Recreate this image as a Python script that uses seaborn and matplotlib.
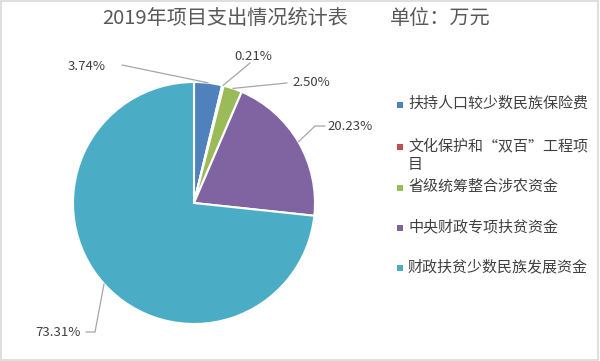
import numpy as np
import matplotlib
matplotlib.use("Agg")
import matplotlib.pyplot as plt
import matplotlib.patches as patches
import seaborn as sns

# 数据
categories = ["扶持人口较少数民族保险费", "文化保护和“双百”工程项\n目", "省级统筹整合涉农资金",
              "中央财政专项扶贫资金", "财政扶贫少数民族发展资金"]
shares = [3.74, 0.21, 2.50, 20.23, 73.31]
pct_labels = ["3.74%", "0.21%", "2.50%", "20.23%", "73.31%"]
colors = ["#4F81BD", "#C0504D", "#9BBB59", "#8064A2", "#4BACC6"]

sns.set_style("white")
plt.rcParams['font.family'] = ['Noto Sans CJK SC', 'DejaVu Sans']

W, H = 600, 361
fig = plt.figure(figsize=(6, 3.61), dpi=100)
ax = fig.add_axes([0, 0, 1, 1])

def Y(y):  # 从上往下的像素坐标 -> 轴坐标
    return H - y

# 饼图
cx, cy, r = 194, Y(203), 121
wedges, _ = ax.pie(shares, colors=colors, startangle=90, counterclock=False,
                   center=(cx, cy), radius=r, frame=True,
                   wedgeprops=dict(edgecolor='white', linewidth=1.5))
ax.set_xlim(0, W)
ax.set_ylim(0, H)
ax.set_aspect('equal')
ax.axis('off')

# 百分比标签与引导线
label_pos = [(87, 67), (253, 57), (311, 83), (350, 127), (58, 332)]
line_pts = [[(122, 65)], [(250, 63)], [(287, 83)], [(325, 126), (315, 126)],
            [(86, 332), (95, 332)]]
for w, txt, (tx, ty), pts in zip(wedges, pct_labels, label_pos, line_pts):
    ang = np.deg2rad((w.theta1 + w.theta2) / 2)
    ex, ey = cx + r * np.cos(ang), cy + r * np.sin(ang)
    xs = [p[0] for p in pts] + [ex]
    ys = [Y(p[1]) for p in pts] + [ey]
    ax.plot(xs, ys, color='#A6A6A6', lw=0.9)
    ax.text(tx, Y(ty), txt, ha='center', va='center', fontsize=9.5, color='#404040')

# 图例
leg_y = [105, 147, 188, 228, 268]
for c, name, ly in zip(colors, categories, leg_y):
    ax.add_patch(patches.Rectangle((397, Y(ly) - 3), 6, 6, facecolor=c, edgecolor='none'))
    ax.text(408, Y(ly) + 8.5, name, ha='left', va='top', fontsize=10.8, color='#404040',
            linespacing=1.45)

# 标题
ax.text(102, Y(18), "2019年项目支出情况统计表", ha='left', va='center', fontsize=14.5, color='#595959')
ax.text(390, Y(18), "单位：万元", ha='left', va='center', fontsize=14.5, color='#595959')

# 外框
fig.patches.append(patches.Rectangle((0.002, 0.003), 0.995, 0.994, transform=fig.transFigure,
                                     fill=False, edgecolor='#D9D9D9', lw=1.2))

fig.savefig("out.png", dpi=100)
